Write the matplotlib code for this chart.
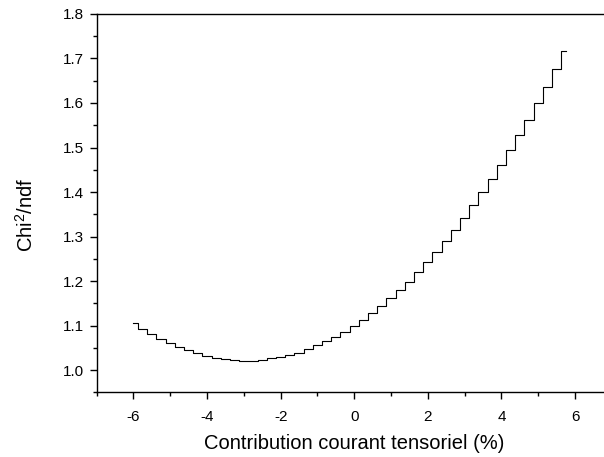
import matplotlib
matplotlib.use("Agg")
import matplotlib.pyplot as plt
from matplotlib.ticker import MultipleLocator, FormatStrFormatter

plt.rcParams["font.family"] = ["Liberation Sans", "DejaVu Sans"]
plt.rcParams["mathtext.fontset"] = "custom"
plt.rcParams["mathtext.rm"] = "Liberation Sans"
plt.rcParams["mathtext.default"] = "regular"
plt.rcParams["axes.unicode_minus"] = False

# Contribution du courant tensoriel (%)
contribution = [-6.0, -5.75, -5.5, -5.25, -5.0, -4.75, -4.5, -4.25,
                -4.0, -3.75, -3.5, -3.25, -3.0, -2.75, -2.5, -2.25,
                -2.0, -1.75, -1.5, -1.25, -1.0, -0.75, -0.5, -0.25,
                0.0, 0.25, 0.5, 0.75, 1.0, 1.25, 1.5, 1.75,
                2.0, 2.25, 2.5, 2.75, 3.0, 3.25, 3.5, 3.75,
                4.0, 4.25, 4.5, 4.75, 5.0, 5.25, 5.5, 5.75]

# Chi2/ndf
chi2_ndf = [1.106, 1.093, 1.081, 1.070, 1.060, 1.052, 1.045, 1.038,
            1.032, 1.028, 1.024, 1.022, 1.021, 1.021, 1.023, 1.026,
            1.029, 1.034, 1.039, 1.048, 1.056, 1.065, 1.074, 1.086,
            1.098, 1.113, 1.128, 1.143, 1.161, 1.179, 1.198, 1.220,
            1.242, 1.265, 1.290, 1.315, 1.341, 1.370, 1.399, 1.430,
            1.460, 1.494, 1.528, 1.562, 1.601, 1.637, 1.676, 1.717]

fig = plt.figure(figsize=(6.04, 4.57), dpi=100)
# l'axe depasse a droite, comme dans l'image d'origine (recadree)
ax = fig.add_axes([0.160, 0.1416, 0.853, 0.8278])

ax.plot(contribution, chi2_ndf, drawstyle="steps-mid", color="black", linewidth=0.8)

ax.set_xlim(-7, 7)
ax.set_ylim(0.95, 1.8)
ax.xaxis.set_major_locator(MultipleLocator(2))
ax.xaxis.set_minor_locator(MultipleLocator(1))
ax.yaxis.set_major_locator(MultipleLocator(0.1))
ax.yaxis.set_minor_locator(MultipleLocator(0.05))
ax.yaxis.set_major_formatter(FormatStrFormatter("%.1f"))

for spine in ax.spines.values():
    spine.set_linewidth(1.0)
    spine.set_color("black")

ax.tick_params(which="both", direction="out", top=False, right=False, width=1.0, colors="black")
ax.tick_params(which="major", length=5, labelsize=11, pad=4)
ax.tick_params(axis="x", which="major", pad=8)
ax.tick_params(which="minor", length=3)

ax.set_xlabel("Contribution courant tensoriel (%)", fontsize=14.5, labelpad=7)
ax.set_ylabel("Chi$^2$/ndf", fontsize=14.5)
ax.yaxis.set_label_coords(-0.116, 0.469)

fig.savefig("out.png", dpi=100)
